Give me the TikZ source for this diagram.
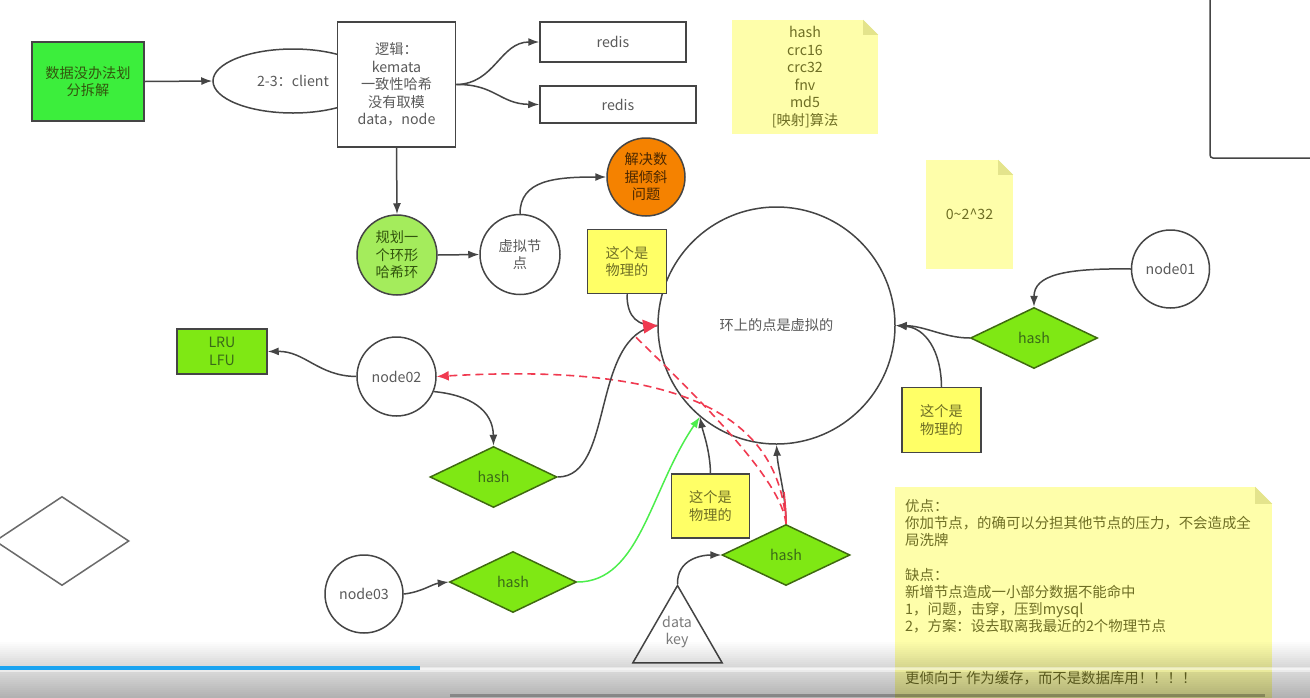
\documentclass[tikz,border=0pt]{standalone}
\usepackage{fontspec}
\setmainfont{Noto Sans CJK SC}
\usetikzlibrary{arrows.meta,shapes.geometric}
\definecolor{linec}{HTML}{454545}
\definecolor{txtc}{HTML}{5A5A5A}
\definecolor{green1}{HTML}{3CEE3C}
\definecolor{limec}{HTML}{7FE814}
\definecolor{diab}{HTML}{3F6A10}
\definecolor{hashtxt}{HTML}{3A6A18}
\definecolor{gcirc}{HTML}{A4EC5C}
\definecolor{orangec}{HTML}{F58200}
\definecolor{yboxc}{HTML}{FFFF66}
\definecolor{notec}{HTML}{FEFEAA}
\definecolor{foldc}{HTML}{E4E48C}
\definecolor{notetxt}{HTML}{6E6E24}
\definecolor{redc}{HTML}{F03A50}
\definecolor{greenl}{HTML}{4CEE4C}
\definecolor{barblue}{HTML}{1AA3F0}
\newcommand\myfs{\fontsize{14.2}{17.5}\selectfont}
\begin{document}
\begin{tikzpicture}[x=1pt,y=-1pt,
  txt/.style={font=\myfs, text=txtc, align=center, inner sep=0pt},
  rbox/.style={txt, rectangle, draw=linec, line width=1.5pt, fill=white},
  circ/.style={txt, circle, draw=linec, line width=1.5pt, fill=white},
  dia/.style={txt, diamond, draw=diab, line width=1.5pt, fill=limec, text=hashtxt,
     minimum width=127pt, minimum height=61pt},
  ybox/.style={rbox, fill=yboxc, text=notetxt, minimum width=78pt, minimum height=64pt},
  note/.style={txt, rectangle, fill=notec, text=notetxt},
  conn/.style={draw=linec, line width=1.5pt, -{Latex[length=11pt,width=8pt]}},
  plain/.style={draw=linec, line width=1.5pt},
  reddash/.style={draw=redc, line width=1.6pt, dash pattern=on 8pt off 5pt},
]
\useasboundingbox (0,0) rectangle (1310,697);
\fill[white] (0,0) rectangle (1310,697);

% ---------- top row ----------
\node[rbox, fill=green1, text=diab!80!black, minimum width=112pt, minimum height=79pt] (split) at (88,81.5) {数据没办法划\\分拆解};
\node[txt, ellipse, draw=linec, line width=1.5pt, minimum width=160pt, minimum height=64pt] (client) at (293,81) {2-3：client};
\node[rbox, minimum width=118pt, minimum height=125pt] (logic) at (396.5,84.5) {逻辑：\\kemata\\一致性哈希\\没有取模\\data，node};
\node[rbox, minimum width=146pt, minimum height=40pt] (redisA) at (613,42) {redis};
\node[rbox, minimum width=156pt, minimum height=37pt] (redisB) at (618,104.5) {redis};

\draw[conn] (split.east) -- (client.west);
\draw[conn] (logic.east) .. controls (495,84) and (500,42) .. (redisA.west);
\draw[conn] (logic.east) .. controls (495,84) and (500,104) .. (redisB.west);

% notes
\node[note, minimum width=146pt, minimum height=114pt] (algo) at (805,77) {hash\\crc16\\crc32\\fnv\\md5\\{[}映射{]}算法};
\fill[white] ([xshift=-15pt]algo.north east) -- (algo.north east) -- ([yshift=-15pt]algo.north east) -- cycle;
\fill[foldc] ([xshift=-15pt]algo.north east) -- ([xshift=-15pt,yshift=-15pt]algo.north east) -- ([yshift=-15pt]algo.north east) -- cycle;

\node[note, minimum width=87pt, minimum height=109pt] (range) at (969.5,214.5) {0\textasciitilde 2\textasciicircum 32};
\fill[white] ([xshift=-15pt]range.north east) -- (range.north east) -- ([yshift=-15pt]range.north east) -- cycle;
\fill[foldc] ([xshift=-15pt]range.north east) -- ([xshift=-15pt,yshift=-15pt]range.north east) -- ([yshift=-15pt]range.north east) -- cycle;

% top-right frame edge
\draw[plain, rounded corners=3pt] (1210,-3) -- (1210,158) -- (1315,158);

% ---------- middle ----------
\node[circ, fill=gcirc, text=diab!80!black, minimum size=80pt] (ringplan) at (397,255) {规划一\\个环形\\哈希环};
\node[circ, minimum size=80pt] (vnode) at (520,254.5) {虚拟节\\点};
\node[circ, fill=orangec, text=black!70!orangec, minimum size=78pt] (skew) at (646,177) {解决数\\据倾斜\\问题};

\draw[conn] (logic.south) -- (ringplan.north);
\draw[conn] (ringplan.east) -- (vnode.west);
\draw[conn] (vnode.north) .. controls (520,180) and (555,177) .. (skew.west);

\node[circ, minimum size=237pt] (ring) at (776.5,325.5) {环上的点是虚拟的};
\node[ybox, minimum width=79pt, minimum height=64pt] (phyA) at (627,261.5) {这个是\\物理的};

\node[circ, minimum size=78pt] (n1) at (1170.5,269) {node01};
\node[dia] (hashR) at (1034,338) {hash};
\node[ybox, minimum width=79pt, minimum height=65pt] (phyB) at (941.5,420) {这个是\\物理的};

\draw[conn] (n1.west) .. controls (1065,268) and (1034,275) .. (hashR.north);
\draw[conn] (hashR.west) .. controls (945,338) and (925,326) .. (ring.east);
\draw[conn] (phyB.north) .. controls (941,350) and (925,328) .. (ring.east);

\node[rbox, fill=limec, text=hashtxt, minimum width=90pt, minimum height=45pt] (lru) at (222,351.5) {LRU\\LFU};
\node[circ, minimum size=79pt] (n2) at (396.5,376.5) {node02};
\node[dia] (hashL) at (493.5,477) {hash};

\draw[conn] (n2.west) .. controls (318,376) and (305,351) .. (lru.east);
\draw[conn] (n2.-22) .. controls (470,395) and (493,410) .. (hashL.north);

% ---------- bottom ----------
\node[txt, diamond, draw=linec!80, line width=1.5pt, minimum width=134pt, minimum height=89pt] (emptyd) at (62,541) {};

\node[circ, minimum size=78pt] (n3) at (364,594) {node03};
\node[dia] (hashD) at (513,582) {hash};
\node[ybox, minimum width=78pt, minimum height=64pt] (phyC) at (710.5,506) {这个是\\物理的};
\node[dia, minimum width=128pt] (hashK) at (786,555) {hash};
\node[txt, regular polygon, regular polygon sides=3, draw=linec, line width=1.5pt, minimum size=103pt, fill=white] (key) at (677.5,637) {};
\node[txt, text=txtc!80] (keylbl) at (677,632) {data\\key};
\coordinate (tipA) at ([xshift=-22pt,yshift=-11pt]ring.west);

\draw[conn] (n3.east) .. controls (422,592) and (432,584) .. (hashD.west);
\draw[plain] (phyA.south) .. controls (627,318) and (638,326) .. (ring.west);
\draw[draw=greenl, line width=1.5pt, -{Latex[length=11pt,width=8pt]}] (hashD.east) .. controls (640,582) and (650,490) .. (ring.230);
\draw[conn] (phyC.north) .. controls (710,450) and (703,432) .. (ring.230);
\draw[conn] (key.corner 1) .. controls (677,560) and (700,555) .. (hashK.west);
\draw[conn] (hashK.north) .. controls (786,495) and (778,470) .. (ring.south);

% red dashed
\draw[reddash, -{Latex[length=12pt,width=10pt]}] (hashK.north) .. controls (778,395) and (640,365) .. (n2.east);
\draw[reddash] (hashK.north) .. controls (782,480) and (700,400) .. (tipA);
\draw[draw=redc, line width=1.6pt] (hashK.north) .. controls (786,512) and (785,502) .. (784,492);
\draw[plain] (hashL.east) .. controls (615,477) and (590,335) .. (ring.west);
\fill[redc] (ring.west) -- ++(-15,-6) -- ++(2,14) -- cycle;

% big note
\node[note, minimum width=377pt, minimum height=212pt] (pros) at (1083.5,593) {};
\fill[white] ([xshift=-17pt]pros.north east) -- (pros.north east) -- ([yshift=-17pt]pros.north east) -- cycle;
\fill[foldc] ([xshift=-17pt]pros.north east) -- ([xshift=-17pt,yshift=-17pt]pros.north east) -- ([yshift=-17pt]pros.north east) -- cycle;
\node[txt, text=notetxt, align=left, anchor=north west, font=\fontsize{14.4}{17}\selectfont] (prostext) at (905,499)
 {优点：\\你加节点，的确可以分担其他节点的压力，不会造成全\\局洗牌\\\strut\\缺点：\\新增节点造成一小部分数据不能命中\\1，问题，击穿，压到mysql\\2，方案：设去取离我最近的2个物理节点\\\strut\\\strut\\更倾向于 作为缓存，而不是数据库用！！！！};

% ---------- video bar overlay ----------
\foreach \i in {0,...,13} {
  \fill[black, opacity=0.012*\i] (0,640+2*\i) rectangle (1310,642+2*\i);
}
\fill[black, opacity=0.08] (0,668) rectangle (1310,672);
\foreach \i in {0,...,12} {
  \fill[black, opacity=0.16+0.012*\i] (0,672+2*\i) rectangle (1310,674+2*\i);
}
\fill[white, opacity=0.4] (420,667) rectangle (1310,670);
\fill[barblue] (0,666) rectangle (420,670);
\fill[black, opacity=0.25] (450,694) rectangle (1265,697);
\end{tikzpicture}
\end{document}
